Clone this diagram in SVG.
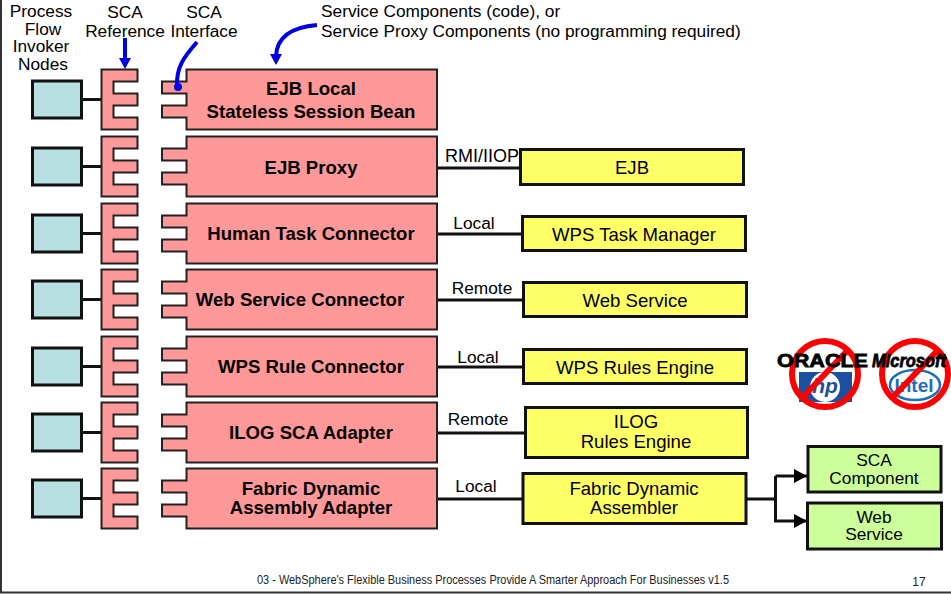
<svg xmlns="http://www.w3.org/2000/svg" xmlns:xlink="http://www.w3.org/1999/xlink" width="951" height="594" viewBox="0 0 951 594">
<style>
text{font-family:"Liberation Sans",Arial,sans-serif;fill:#000;text-anchor:middle}
.t{font-size:17.300px}
.yt{font-size:18.600px}
.b{font-size:18.600px;font-weight:bold}
.p{fill:#ff9999;stroke:#222;stroke-width:2}
.n{fill:#b8dfe2;stroke:#111;stroke-width:3}
.y{fill:#ffff66;stroke:#111;stroke-width:3}
.g{fill:#ccff99;stroke:#111;stroke-width:3}
.c{fill:none;stroke:#111;stroke-width:3}
.a{fill:none;stroke:#0000e6;stroke-width:4}
.no{fill:none;stroke:#f00;stroke-width:6}
.lg{font-size:19px;font-weight:bold;stroke:#000;stroke-width:.8px}
</style>
<defs>
<marker id="ah" markerUnits="userSpaceOnUse" markerWidth="14" markerHeight="14" refX="13" refY="7" orient="auto"><path d="M0 0L13 7L0 14Z" fill="#000"/></marker>
<path id="inv" class="n" d="M32.500 0H81.500V37H32.500Z"/>
<path id="ref" class="p" d="M101.500 0H137.500V12H113.500V24H137.500V36H113.500V48H137.500V60H101.500Z"/>
<path id="comp" class="p" d="M186.500 0H437V60H186.500V48H162V36H186.500V24H162V12H186.500Z"/>
</defs>
<path id="frame" d="M1 0V592.500H951" fill="none" stroke="#333" stroke-width="2"/>
<g id="connectors">
<path class="c" d="M81 99.500H101M81 166.500H101M81 233.500H101M81 299.500H101M81 366.500H101M81 432.500H101M81 498.500H101"/>
<path class="c" d="M437 168H520M437 234H522M437 300H523M437 367H523M437 433H526M437 499H523"/>
<path class="c" d="M746 499H775.500V476"/>
<path class="c" d="M775.500 476H807" marker-end="url(#ah)"/>
<path class="c" d="M775.500 499V521H807" marker-end="url(#ah)"/>
</g>
<g id="labels">
<text class="t" x="41" y="17">Process</text><text class="t" x="43" y="35">Flow</text><text class="t" x="41" y="52">Invoker</text><text class="t" x="43" y="70">Nodes</text>
<text class="t" x="125" y="18">SCA</text><text class="t" x="125" y="37">Reference</text>
<text class="t" x="204" y="18">SCA</text><text class="t" x="204" y="37">Interface</text>
<text class="t" x="321" y="17" style="text-anchor:start">Service Components (code), or</text>
<text class="t" x="321" y="37" style="text-anchor:start">Service Proxy Components (no programming required)</text>
<text class="t" x="482" y="162" style="font-size:18px">RMI/IIOP</text><text class="t" x="474" y="229">Local</text><text class="t" x="482" y="294">Remote</text><text class="t" x="478" y="363">Local</text><text class="t" x="478" y="425">Remote</text><text class="t" x="476" y="492">Local</text>
</g>
<g id="row1"><use xlink:href="#inv" y="81"/><use xlink:href="#ref" y="69.500"/><use xlink:href="#comp" y="69.500"/><text class="b" x="311" y="95">EJB Local</text><text class="b" x="311" y="118">Stateless Session Bean</text></g>
<g id="row2"><use xlink:href="#inv" y="148"/><use xlink:href="#ref" y="136.500"/><use xlink:href="#comp" y="136.500"/><text class="b" x="311" y="174">EJB Proxy</text></g>
<g id="row3"><use xlink:href="#inv" y="215"/><use xlink:href="#ref" y="203.500"/><use xlink:href="#comp" y="203.500"/><text class="b" x="311" y="240">Human Task Connector</text></g>
<g id="row4"><use xlink:href="#inv" y="281"/><use xlink:href="#ref" y="269.500"/><use xlink:href="#comp" y="269.500"/><text class="b" x="300" y="306">Web Service Connector</text></g>
<g id="row5"><use xlink:href="#inv" y="348"/><use xlink:href="#ref" y="336.500"/><use xlink:href="#comp" y="336.500"/><text class="b" x="311" y="373">WPS Rule Connector</text></g>
<g id="row6"><use xlink:href="#inv" y="414"/><use xlink:href="#ref" y="402.500"/><use xlink:href="#comp" y="402.500"/><text class="b" x="311" y="439">ILOG SCA Adapter</text></g>
<g id="row7"><use xlink:href="#inv" y="480"/><use xlink:href="#ref" y="468.500"/><use xlink:href="#comp" y="468.500"/><text class="b" x="311" y="495">Fabric Dynamic</text><text class="b" x="311" y="514">Assembly Adapter</text></g>
<g id="callouts">
<path class="a" d="M125 38V60"/><path d="M119 58H131L125 69Z" fill="#0000e6"/>
<path class="a" d="M197 42C184 57 176 67 177 87"/><circle cx="178" cy="87" r="4" fill="#0000e6"/>
<path class="a" d="M317 25C293 27 277 36 276 56"/><path d="M270 54H282L276 65Z" fill="#0000e6"/>
</g>
<g id="ejb"><rect class="y" x="520.500" y="149.500" width="223" height="35"/><text class="yt" x="632" y="174">EJB</text></g>
<g id="taskmgr"><rect class="y" x="522.500" y="216.500" width="223" height="34"/><text class="yt" x="634" y="241">WPS Task Manager</text></g>
<g id="websvc"><rect class="y" x="523.500" y="282.500" width="223" height="34"/><text class="yt" x="635" y="307">Web Service</text></g>
<g id="rules"><rect class="y" x="523.500" y="349.500" width="223" height="34"/><text class="yt" x="635" y="374">WPS Rules Engine</text></g>
<g id="ilog"><rect class="y" x="525.500" y="407.500" width="222" height="50"/><text class="yt" x="636" y="428">ILOG</text><text class="yt" x="636" y="448">Rules Engine</text></g>
<g id="assembler"><rect class="y" x="523" y="473.500" width="223" height="50"/><text class="yt" x="634" y="495">Fabric Dynamic</text><text class="yt" x="634" y="514">Assembler</text></g>
<g id="scacomp"><rect class="g" x="808" y="446.500" width="133" height="45.500"/><text class="t" x="874" y="466">SCA</text><text class="t" x="874" y="484">Component</text></g>
<g id="websvc2"><rect class="g" x="807.500" y="503" width="134" height="46"/><text class="t" x="874" y="523">Web</text><text class="t" x="874" y="540">Service</text></g>
<g id="logos">
<rect x="799" y="372" width="53" height="30" fill="#1c4fa0"/>
<circle cx="825" cy="387" r="15" fill="#fff"/>
<text x="825" y="393" style="font-size:21px;font-weight:bold;font-style:italic;fill:#1c4fa0">hp</text>
<ellipse cx="915" cy="385" rx="25" ry="15" fill="none" stroke="#1c6fb8" stroke-width="2.500"/>
<text x="914" y="392" style="font-size:19px;font-weight:bold;fill:#1c6fb8">Intel</text>
<circle cx="825" cy="374" r="33" class="no"/><path class="no" d="M802 398L848 350"/>
<circle cx="915" cy="374" r="33" class="no"/><path class="no" d="M892 398L938 350"/>
<text class="lg" x="777" y="367" textLength="91" lengthAdjust="spacingAndGlyphs" style="text-anchor:start">ORACLE</text>
<text class="lg" x="872" y="367" textLength="74" lengthAdjust="spacingAndGlyphs" style="text-anchor:start;font-style:italic">Microsoft</text>
</g>
<g id="footer">
<text x="493" y="584" textLength="472" lengthAdjust="spacingAndGlyphs" style="font-size:12px;fill:#222">03 - WebSphere's Flexible Business Processes Provide A Smarter Approach For Businesses v1.5</text>
<text x="919" y="586" style="font-size:12px;fill:#222">17</text>
</g>
</svg>
